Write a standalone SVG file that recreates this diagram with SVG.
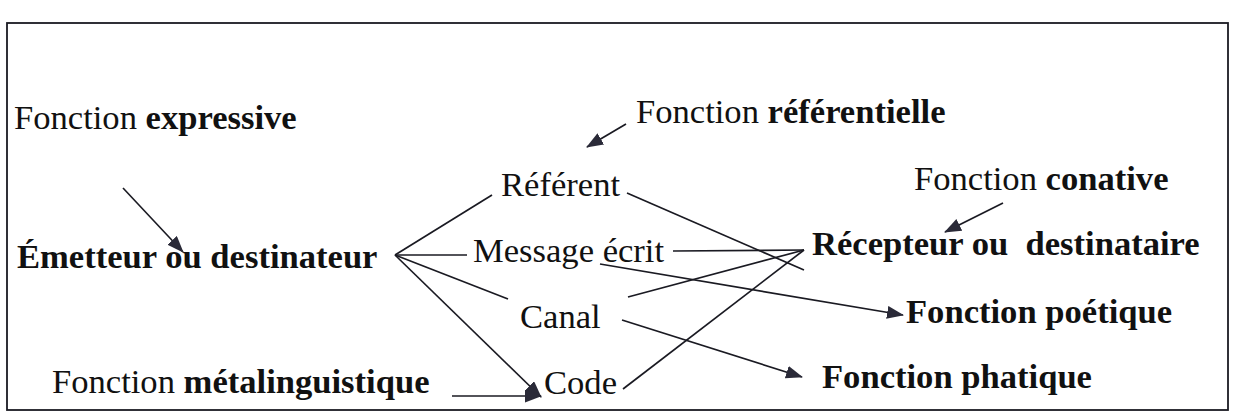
<svg xmlns="http://www.w3.org/2000/svg" width="1233" height="413" viewBox="0 0 1233 413">
<style>
text{font-family:"Liberation Serif","Times New Roman",serif;font-size:34.6px;fill:#111;white-space:pre}
.b{font-weight:bold}
.c line{stroke:#1a1a22;stroke-width:1.7;fill:none}
.frame{fill:#fff;stroke:#1a1a22;stroke-width:1.8}
</style>
<defs>
<marker id="ah" markerUnits="userSpaceOnUse" markerWidth="17" markerHeight="13" viewBox="0 0 17 13" refX="16" refY="6.5" orient="auto">
<path d="M0,0 L17,6.5 L0,13 Z" fill="#2a2a38"/>
</marker>
</defs>
<rect class="frame" x="7" y="23" width="1221" height="387"/>
<g id="expressive"><text x="14" y="129">Fonction <tspan class="b">expressive</tspan></text></g>
<g id="referentielle"><text x="636" y="123">Fonction <tspan class="b">référentielle</tspan></text></g>
<g id="conative"><text x="914" y="190">Fonction <tspan class="b">conative</tspan></text></g>
<g id="referent"><text x="501" y="196">Référent</text></g>
<g id="emetteur"><text class="b" x="17" y="268">Émetteur ou destinateur</text></g>
<g id="message"><text x="473" y="262">Message écrit</text></g>
<g id="recepteur"><text class="b" x="812" y="255">Récepteur ou  destinataire</text></g>
<g id="canal"><text x="520" y="328">Canal</text></g>
<g id="poetique"><text class="b" x="906" y="323">Fonction poétique</text></g>
<g id="code"><text x="544" y="394">Code</text></g>
<g id="metalinguistique"><text x="52" y="393">Fonction <tspan class="b">métalinguistique</tspan></text></g>
<g id="phatique"><text class="b" x="822" y="388">Fonction phatique</text></g>
<g class="c" id="connectors">
<line x1="123" y1="188" x2="183" y2="252" marker-end="url(#ah)"/>
<line x1="626" y1="124" x2="587" y2="147" marker-end="url(#ah)"/>
<line x1="1003" y1="203" x2="945" y2="232" marker-end="url(#ah)"/>
<line x1="395" y1="255" x2="492" y2="195"/>
<line x1="395" y1="255" x2="467" y2="255"/>
<line x1="395" y1="255" x2="508" y2="299"/>
<line x1="395" y1="255" x2="541" y2="397" marker-end="url(#ah)"/>
<line x1="452" y1="396" x2="541" y2="396" marker-end="url(#ah)"/>
<line x1="627" y1="193" x2="804" y2="270"/>
<line x1="673" y1="251" x2="804" y2="250"/>
<line x1="628" y1="297" x2="804" y2="250"/>
<line x1="623" y1="389" x2="804" y2="250"/>
<line x1="600" y1="264" x2="903" y2="315" marker-end="url(#ah)"/>
<line x1="622" y1="320" x2="802" y2="377" marker-end="url(#ah)"/>
</g>
</svg>
